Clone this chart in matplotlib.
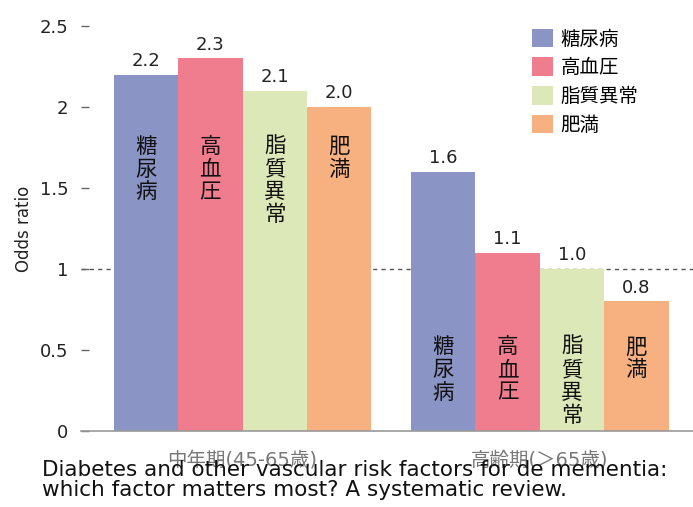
import matplotlib
matplotlib.use("Agg")
import matplotlib.pyplot as plt
from matplotlib.patches import Patch

plt.rcParams['font.family'] = ['DejaVu Sans', 'Noto Sans CJK JP']

factors = ["糖尿病", "高血圧", "脂質異常", "肥満"]
groups = ["中年期(45-65歳)", "高齢期(＞65歳)"]
midlife = [2.2, 2.3, 2.1, 2.0]
late_life = [1.6, 1.1, 1.0, 0.8]
value_labels_mid = ["2.2", "2.3", "2.1", "2.0"]
value_labels_late = ["1.6", "1.1", "1.0", "0.8"]
colors = ["#8A94C5", "#F07D8E", "#DDE8B9", "#F7B080"]
yticks = [0, 0.5, 1, 1.5, 2, 2.5]
ytick_labels = ["0", "0.5", "1", "1.5", "2", "2.5"]
caption = "Diabetes and other vascular risk factors for de mementia:\nwhich factor matters most? A systematic review."

fig = plt.figure(figsize=(6.93, 5.07), dpi=100)
ax = fig.add_axes([81/693, 76/507, 612/693, 405/507])

offset2 = 4.62
x1 = [i for i in range(4)]
x2 = [i + offset2 for i in range(4)]

ax.axhline(1, color="#555555", lw=1.0, ls=(0, (3, 3)), zorder=1)

for vals, xs, labs, ytop in [(midlife, x1, value_labels_mid, 1.815), (late_life, x2, value_labels_late, 0.578)]:
    ax.bar(xs, vals, width=1.0, color=colors, zorder=2)
    for x, v, lab, name in zip(xs, vals, labs, factors):
        ax.annotate(lab, (x, v), xytext=(0, 3.5), textcoords="offset points",
                    ha="center", va="bottom", fontsize=13, color="#222222")
        for k, ch in enumerate(name):
            ax.annotate(ch, (x, ytop), xytext=(0, -k * 16.3), textcoords="offset points",
                        ha="center", va="top", fontsize=15.5, color="#111111", zorder=3)

ax.set_xlim(-1.01, 7.62 + 0.88)
ax.set_ylim(0, 2.5)
ax.set_yticks(yticks)
ax.set_yticklabels(ytick_labels, fontsize=13, color="#222222")
ax.tick_params(axis="y", direction="in", length=6, width=1, color="#666666", pad=9, left=True)
ax.set_xticks([1.5, 1.5 + offset2])
ax.set_xticklabels(groups, fontsize=14, color="#777777")
ax.tick_params(axis="x", length=0, pad=14)
for s in ["left", "top", "right"]:
    ax.spines[s].set_visible(False)
ax.spines["bottom"].set_color("#999999")
ax.spines["bottom"].set_linewidth(1.2)
ax.set_ylabel("Odds ratio", fontsize=12, color="#222222", labelpad=5)

handles = [Patch(facecolor=c, edgecolor="none") for c in colors]
ax.legend(handles, factors, loc="upper left", bbox_to_anchor=(518/693, 1 - 15/507),
          bbox_transform=fig.transFigure, frameon=False, fontsize=14,
          handlelength=1.1, handleheight=1.1, labelspacing=0.45, handletextpad=0.4,
          borderpad=0.2)

fig.text(42/693, 1 - 460/507, caption, ha="left", va="top", fontsize=15.5,
         color="#111111", linespacing=1.0)

fig.savefig("out.png", dpi=100)
